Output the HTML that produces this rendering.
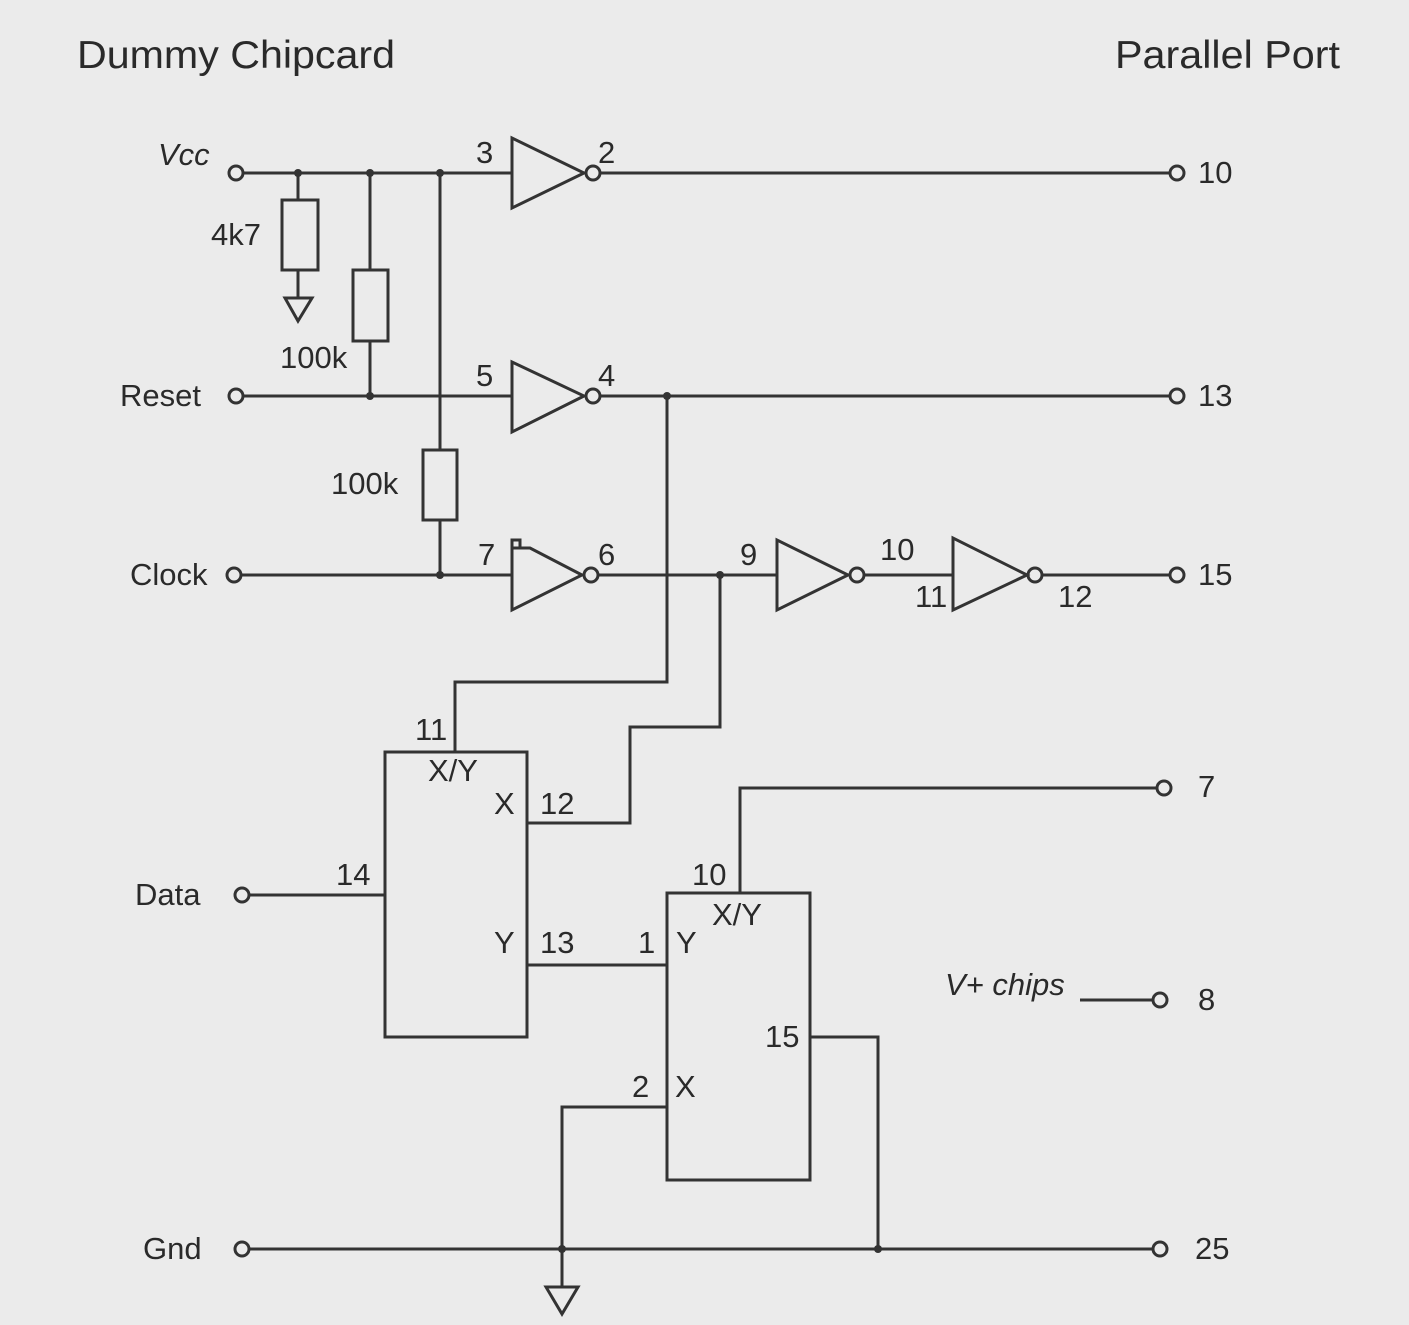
<!DOCTYPE html>
<html><head><meta charset="utf-8"><style>
html,body{margin:0;padding:0;background:#ebebeb;}
svg{display:block;}
text{font-family:"Liberation Sans",sans-serif;fill:#2a2a2a;}
</style></head><body>
<svg width="1409" height="1325" viewBox="0 0 1409 1325" xmlns="http://www.w3.org/2000/svg">
<rect width="1409" height="1325" fill="#ebebeb"/>
<g stroke="#333" stroke-width="3" fill="none">
<line x1="243" y1="173" x2="512" y2="173"/>
<polygon points="512,138 512,208 584,173" fill="#ebebeb"/>
<circle cx="593" cy="173" r="7"/>
<line x1="600" y1="173" x2="1170" y2="173"/>
<line x1="298" y1="173" x2="298" y2="200"/>
<rect x="282" y="200" width="36" height="70"/>
<line x1="298" y1="270" x2="298" y2="298"/>
<polygon points="285,298 312,298 298,321"/>
<line x1="370" y1="173" x2="370" y2="270"/>
<rect x="353" y="270" width="35" height="71"/>
<line x1="370" y1="341" x2="370" y2="396"/>
<line x1="440" y1="173" x2="440" y2="450"/>
<rect x="423" y="450" width="34" height="70"/>
<line x1="440" y1="520" x2="440" y2="575"/>
<line x1="243" y1="396" x2="512" y2="396"/>
<polygon points="512,362 512,432 584,396" fill="#ebebeb"/>
<circle cx="593" cy="396" r="7"/>
<line x1="600" y1="396" x2="1170" y2="396"/>
<line x1="241" y1="575" x2="512" y2="575"/>
<polygon points="512,548 512,610 582,575 530,548" fill="#ebebeb"/>
<polyline points="512,548 512,540 520,540 520,548 530,548"/>
<circle cx="591" cy="575" r="7"/>
<line x1="598" y1="575" x2="777" y2="575"/>
<polygon points="777,540 777,610 848,575" fill="#ebebeb"/>
<circle cx="857" cy="575" r="7"/>
<line x1="864" y1="575" x2="953" y2="575"/>
<polygon points="953,538 953,610 1027,575" fill="#ebebeb"/>
<circle cx="1035" cy="575" r="7"/>
<line x1="1042" y1="575" x2="1170" y2="575"/>
<polyline points="667,396 667,682 455,682 455,752"/>
<polyline points="720,575 720,727 630,727 630,823 527,823"/>
<rect x="385" y="752" width="142" height="285"/>
<line x1="249" y1="895" x2="385" y2="895"/>
<line x1="527" y1="965" x2="667" y2="965"/>
<rect x="667" y="893" width="143" height="287"/>
<polyline points="740,893 740,788 1157,788"/>
<line x1="1080" y1="1000" x2="1153" y2="1000"/>
<polyline points="810,1037 878,1037 878,1249"/>
<polyline points="667,1107 562,1107 562,1287"/>
<polygon points="546,1287 578,1287 562,1314"/>
<line x1="249" y1="1249" x2="1153" y2="1249"/>
<circle cx="236" cy="173" r="7"/>
<circle cx="236" cy="396" r="7"/>
<circle cx="234" cy="575" r="7"/>
<circle cx="242" cy="895" r="7"/>
<circle cx="242" cy="1249" r="7"/>
<circle cx="1177" cy="173" r="7"/>
<circle cx="1177" cy="396" r="7"/>
<circle cx="1177" cy="575" r="7"/>
<circle cx="1164" cy="788" r="7"/>
<circle cx="1160" cy="1000" r="7"/>
<circle cx="1160" cy="1249" r="7"/>
</g>
<g fill="#333">
<circle cx="298" cy="173" r="4"/><circle cx="370" cy="173" r="4"/><circle cx="440" cy="173" r="4"/>
<circle cx="370" cy="396" r="4"/><circle cx="440" cy="575" r="4"/><circle cx="667" cy="396" r="4"/>
<circle cx="720" cy="575" r="4"/><circle cx="562" cy="1249" r="4"/><circle cx="878" cy="1249" r="4"/>
</g>
<g font-size="39">
<text x="77" y="68" textLength="318" lengthAdjust="spacingAndGlyphs">Dummy Chipcard</text>
<text x="1115" y="68" textLength="225" lengthAdjust="spacingAndGlyphs">Parallel Port</text>
</g>
<g font-size="31">
<text x="158" y="165" font-style="italic">Vcc</text>
<text x="120" y="406">Reset</text>
<text x="130" y="585">Clock</text>
<text x="135" y="905">Data</text>
<text x="143" y="1259">Gnd</text>
<text x="211" y="245">4k7</text>
<text x="280" y="368">100k</text>
<text x="331" y="494">100k</text>
<text x="476" y="163">3</text><text x="598" y="163">2</text>
<text x="476" y="386">5</text><text x="598" y="386">4</text>
<text x="478" y="565">7</text><text x="598" y="565">6</text>
<text x="740" y="565">9</text><text x="880" y="560">10</text>
<text x="915" y="607">11</text><text x="1058" y="607">12</text>
<text x="1198" y="183">10</text><text x="1198" y="406">13</text><text x="1198" y="585">15</text>
<text x="1198" y="797">7</text><text x="1198" y="1010">8</text><text x="1195" y="1259">25</text>
<text x="945" y="995" font-style="italic">V+ chips</text>
<text x="415" y="740">11</text>
<text x="428" y="781">X/Y</text>
<text x="494" y="814">X</text><text x="540" y="814">12</text>
<text x="494" y="953">Y</text><text x="540" y="953">13</text>
<text x="336" y="885">14</text>
<text x="692" y="885">10</text>
<text x="712" y="925">X/Y</text>
<text x="638" y="953">1</text><text x="676" y="953">Y</text>
<text x="765" y="1047">15</text>
<text x="632" y="1097">2</text><text x="675" y="1097">X</text>
</g>
</svg>
</body></html>
